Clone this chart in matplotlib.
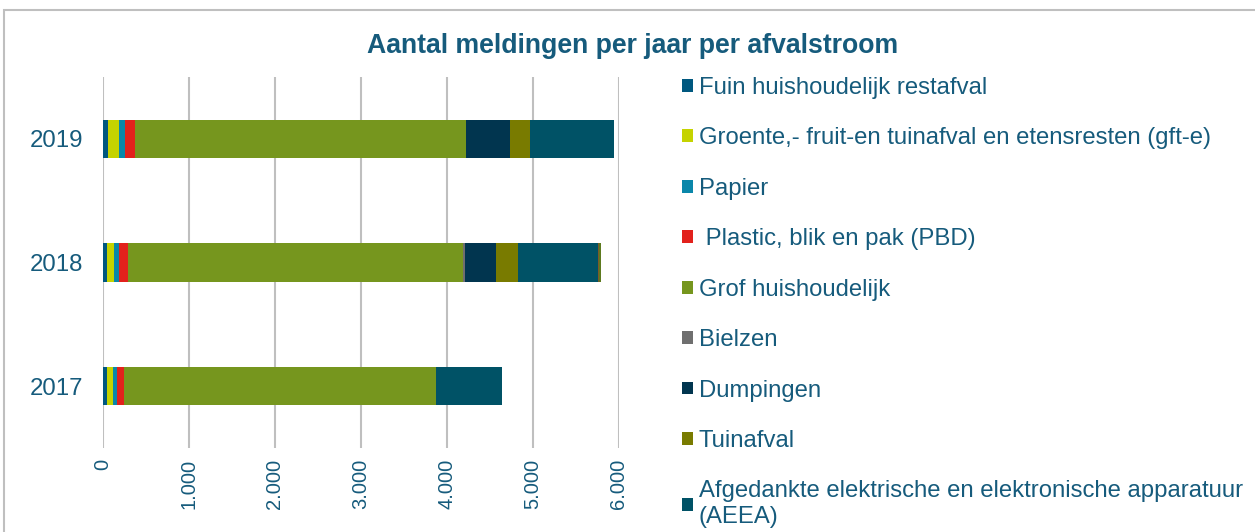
import matplotlib
matplotlib.use('Agg')
import matplotlib.pyplot as plt
from matplotlib.patches import Patch, Rectangle
import numpy as np

plt.rcParams['font.family'] = ['Liberation Sans', 'DejaVu Sans']

years = ['2017', '2018', '2019']

series_names = ['Fuin huishoudelijk restafval',
	'Groente,- fruit-en tuinafval en etensresten (gft-e)',
	'Papier',
	' Plastic, blik en pak (PBD)',
	'Grof huishoudelijk',
	'Bielzen',
	'Dumpingen',
	'Tuinafval',
	'Afgedankte elektrische en elektronische apparatuur\n(AEEA)']

# values per year: 2017, 2018, 2019
fuin      = [47, 47, 62]
gft       = [73, 84, 131]
papier    = [50, 55, 70]
pbd       = [74, 108, 116]
grof      = [3628, 3892, 3845]
bielzen   = [0, 23, 0]
dumpingen = [0, 368, 516]
tuinafval = [0, 249, 229]
aeea      = [771, 933, 973]
# two small series at the end of the bars that fall outside the visible legend
overig_a  = [0, 8, 0]
overig_b  = [0, 31, 6]

colors = ['#00587F', '#C5D300', '#0A87AA', '#E2211C', '#76961E',
	'#6F6F6F', '#01354F', '#797B00', '#005266']
extra_colors = ['#7A5A2A', '#5D7A1F']

text_color = '#165B7C'

fig = plt.figure(figsize=(12.55, 5.32), dpi=100)
ax = fig.add_axes([102.7/1255, 1-448/532, (618.7-102.7)/1255, (448-77)/532])

all_series = [fuin, gft, papier, pbd, grof, bielzen, dumpingen, tuinafval, aeea, overig_a, overig_b]
all_colors = colors + extra_colors
ypos = np.arange(len(years))
left = np.zeros(len(years))
for values, c in zip(all_series, all_colors):
	ax.barh(ypos, values, left=left, height=0.31, color=c, linewidth=0, zorder=3)
	left += np.array(values)

ax.set_xlim(0, 6000)
ax.set_ylim(-0.5, 2.5)
ax.set_xticks(np.arange(0, 6001, 1000))
ax.set_xticklabels(['0', '1.000', '2.000', '3.000', '4.000', '5.000', '6.000'],
	rotation=90, fontsize=14.5, color=text_color)
ax.set_yticks(ypos)
ax.set_yticklabels(years, fontsize=17.3, color=text_color)
ax.tick_params(axis='x', length=0, pad=8)
ax.tick_params(axis='y', length=0, pad=14)
ax.grid(axis='x', color='#BFBFBF', linewidth=1.5, zorder=0)
for s in ax.spines.values():
	s.set_visible(False)

fig.text(633/1255, 1-46/532, 'Aantal meldingen per jaar per afvalstroom',
	ha='center', va='center', fontsize=19.2, fontweight='bold', color=text_color)

handles = [Patch(facecolor=c, edgecolor='none') for c in colors]
leg = fig.legend(handles, series_names, loc='upper left',
	bbox_to_anchor=(682/1255, 1-77/532), frameon=False, fontsize=17.2,
	handlelength=0.45, handleheight=0.45, handletextpad=0.25,
	labelspacing=1.19, borderaxespad=0, borderpad=0)
for t in leg.get_texts():
	t.set_color(text_color)

fig.patches.append(Rectangle((4/1255, -0.05), 1.1, 1-9.5/532+0.05, transform=fig.transFigure,
	fill=False, edgecolor='#BFBFBF', linewidth=1.5))

fig.savefig('out.png', dpi=100)
